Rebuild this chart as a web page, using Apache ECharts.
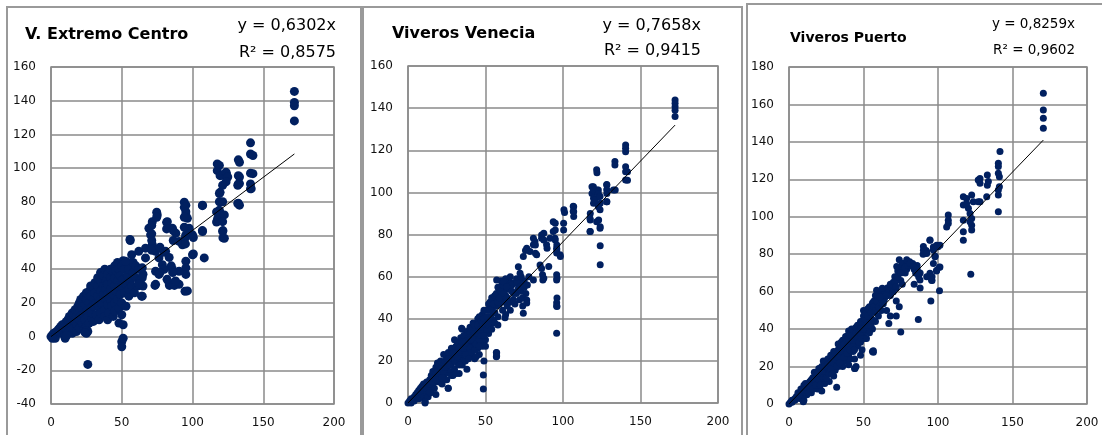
<!DOCTYPE html>
<html>
<head>
<meta charset="utf-8">
<script src="https://cdn.jsdelivr.net/npm/echarts@6/dist/echarts.min.js"></script>
<style>
  html, body { margin: 0; padding: 0; background: #fff; }
  #chart { width: 1102px; height: 435px; }
</style>
</head>
<body>
<div id="chart"></div>
<script>
// Panel titles, regression slopes and R² values
const titles = ['V. Extremo Centro', 'Viveros Venecia', 'Viveros Puerto'];
const slopes = [0.6302, 0.7658, 0.8259];
const r2Values = ['0,8575', '0,9415', '0,9602'];

// Axis ranges
const xTicks = { min: 0, max: 200, interval: 50 };
const yRanges = [
  { min: -40, max: 160, interval: 20 },
  { min: 0, max: 160, interval: 20 },
  { min: 0, max: 180, interval: 20 }
];

// V. Extremo Centro observations [x, y]
const extremoCentro = [
  [0,0],[1,1],[2,0],[2,2],[3,1],[4,3],[5,2],[5,4],[3,-1],[1,-1],
  [6,3],[6,5],[7,2],[7,6],[8,4],[8,7],[9,3],[9,6],[10,5],[10,8],[10,1],[10,-1],
  [11,9],[11,4],[12,7],[12,10],[12,2],[13,6],[13,12],[14,9],[14,4],[15,11],[15,14],[15,7],[15,2],
  [16,13],[16,5],[17,9],[17,16],[18,12],[18,7],[18,3],[19,15],[19,18],[20,10],[20,14],[20,20],[20,5],
  [21,22],[21,12],[22,8],[22,17],[23,24],[23,13],[23,4],[24,19],[24,10],[25,15],[25,22],[25,26],[25,6],[25,2],[26,3],
  [26,12],[27,20],[27,27],[27,8],[28,17],[28,24],[28,30],[29,11],[29,14],[30,22],[30,29],[30,18],[30,9],
  [31,26],[31,32],[32,13],[32,20],[33,24],[33,30],[33,35],[34,17],[34,10],[35,27],[35,22],[35,33],[35,38],[35,14],
  [36,19],[37,30],[37,25],[37,36],[38,40],[38,16],[38,12],[39,22],[39,28],[39,33],[40,19],[40,37],[40,25],[40,31],[40,10],
  [41,14],[42,35],[42,22],[42,28],[42,40],[43,18],[43,32],[44,25],[44,38],[44,12],[45,20],[45,30],[45,35],[45,42],[45,15],
  [46,27],[46,39],[47,22],[47,33],[47,44],[48,17],[48,30],[48,40],[48,8],[49,25],[49,36],[50,20],[50,42],[50,30],[50,13],
  [51,34],[51,45],[51,7],[52,26],[52,40],[53,18],[53,31],[54,44],[54,36],[55,24],[55,28],[55,40],
  [56,33],[57,30],[58,38],[58,44],[59,26],[60,35],[60,42],[61,30],[62,40],[63,33],[64,24],[65,37],[65,30],
  [50,-3],[50,-6],[51,-1],[26,-16.5],[25,3.5],[11,0.6],[24,2.5],
  [52.6,44.7],[57,48.6],[56,57],[62,50.6],[66.8,52.5],[66.8,46.7],[64.5,40.8],[64.5,34.9],[62,31],[64.5,24],
  [69.2,64.3],[71.6,68.2],[75.1,72.2],[70.4,60.4],[71.6,54.5],[73.9,50.6],[76.3,46.7],[78.7,42.7],[73.9,38.8],
  [73.9,31],[76.3,36.9],[81,50.6],[82.2,68.2],[85.8,64.3],[88.2,61.4],[90.5,56.5],[92.9,54.5],[95.3,60.4],
  [100,60.4],[95.3,72.2],[95.3,78],[95.3,74.1],[96.4,70.2],[97.6,64.3],[107.1,78],[107.1,62.4],[100,48.6],
  [108.3,46.7],[95.3,44.7],[95.3,40.8],[95.3,36.9],[90.5,38.8],[85.8,39.8],[83.4,32],[90.5,31],[96.4,27.1],
  [73.5,30.4],[83.7,30.4],[87.2,30.4],[94.7,26.9],[86.4,62.9],[86.4,57],[81.7,67.8],[81.7,63.9],
  [74.7,73.8],[74.7,70.8],[71.2,66],[71.2,61],[71.2,57],[71.2,51.2],[55.8,57.6],[100.6,58.8],[100.6,49],
  [77,53],[80,50],[83.5,47],[85,42],[86,38],[80,40],[77,38],[82,34],[88,33],
  [94.2,79.7],[94.2,76.7],[94.2,70.8],[94.2,64.9],[95,58.8],[95,55],
  [172,145.5],[172,139],[172,137],[172,128],[141,115],[141,108.4],[132.4,104.9],[117.5,102.5],[117.5,98.5],
  [119.5,95.5],[124,96.5],[132.4,95.5],[132.4,90.6],[141,97],[141,90.6],[141,87.7],[119.5,85.6],[132.4,79.1],
  [119,80],[119,75],[117,74],[119,71],[117,68],[121.5,62.9],[121.5,58.6],[107,77.7],[107,62.9],
  [119,101.6],[121.3,95.7],[123.7,97.6],[124.9,94.7],[123.7,91.8],[121.3,89.8],[119,84.9],[133.2,103.5],
  [142.7,107.5],[142.7,96.7],[141.5,87.8],[133.2,94.7],[133.2,90.8],[133.2,78],[121.3,80],[119,74.1],
  [117.8,70.2],[122.5,72.2],[121.3,68.2],[121.3,62.4],[122.5,58.4],[132,89.8],[132,79]
];

// Viveros Venecia observations [x, y]
const viverosVenecia = [
  [0,0],[1,1],[2,0],[2,2],[3,2],[4,3],[4,1],[5,4],[6,3],[6,5],[7,6],[7,2],[8,5],[8,7],[9,4],[9,8],[10,6],[10,9],[10,3],
  [11,8],[11,1],[11,0],[12,5],[12,10],[13,9],[13,3],[14,11],[14,7],[15,13],[15,9],[15,5],[16,12],[16,15],[17,10],[17,7],
  [18,14],[18,17],[18,4],[19,12],[19,19],[20,15],[20,10],[20,18],[21,13],[21,20],[22,16],[22,9],[23,18],[23,23],[23,12],
  [24,14],[24,20],[25,17],[25,22],[25,11],[26,19],[26,7],[26,24],[27,15],[27,21],[28,23],[28,26],[28,18],[29,13],[29,20],
  [30,24],[30,30],[30,16],[31,22],[31,27],[32,19],[32,25],[32,29],[33,14],[33,23],[34,27],[34,31],[34,21],[35,18],[35,25],
  [35,35],[36,29],[36,23],[37,32],[37,26],[37,20],[38,30],[38,34],[38,16],[39,24],[39,28],[40,33],[40,22],[40,36],[41,27],
  [41,30],[42,25],[42,34],[42,38],[43,29],[43,21],[44,32],[44,36],[45,26],[45,30],[45,40],[46,34],[46,23],[47,38],[47,29],
  [48,32],[48,42],[48,27],[49,36],[49,20],[50,30],[50,40],[50,34],[51,44],[51,38],[52,33],[52,47],[53,41],[53,36],[54,45],
  [55,39],[55,50],[56,43],[56,48],[57,24],[57,22],[57,46],[58,52],[58,41],[59,55],[59,47],[60,50],[60,58],[61,44],[61,53],
  [62,48],[63,56],[63,51],[64,46],[65,54],[65,58],
  [12,7],[14,9],[16,10],[18,11],[19,15],[21,16],[22,12],[23,15],[24,17],[26,21],[27,18],[28,13],[29,24],[30,20],[31,14],
  [32,22],[33,26],[33,18],[34,24],[35,29],[36,26],[36,32],[37,23],[37,29],[38,27],[39,31],[39,21],[40,26],[40,30],[41,35],
  [41,24],[42,30],[43,33],[43,25],[43,37],[44,28],[44,22],[45,33],[45,37],[46,30],[46,27],[46,41],[47,35],[47,32],[48,36],
  [48,38],[49,32],[49,40],[49,44],[50,37],[50,27],[51,41],[51,35],[52,37],[52,44],[53,44],[53,48],[54,40],[54,50],[55,43],
  [55,47],[56,51],[57,52],[58,48],[58,55],[59,50],[60,53],[61,56],[62,52],[62,58],[63,59],[64,55],[56,38],[54,35],[58,37],
  [64,50],[66,48],[67,53],[68,57],[69,47],[70,52],[71,58],[72,49],[73,53],[74,46],[75,58],[76,52],[77,56],[78,60],[66,44],[63,42],
  [66,60],[67,56],[68,52],[68,49],[70,59],[71,54],[72,57],[73,60],[74,50],[75,55],[76.6,48.9],[76.6,47.5],[74.4,42.6],
  [62.6,40.5],[57.2,22.3],[57.2,23.9],[48.6,13.3],[48.6,6.6],[34.6,35.5],[25.9,7],[11,0.5],[14.2,4.9],
  [95.9,33.1],[95.9,47.6],[95.9,46.1],[87,58.4],[95.9,58.4],[80.9,58.4],
  [57.2,58.4],[61.5,57.6],[63.7,55.2],[71.2,64.7],[72.3,61.6],[74.4,69.6],[76.6,73.5],[78.7,71.9],[80.9,75.1],
  [80.9,78.2],[81.9,76.7],[83,70.4],[85.2,65.5],[86.2,63.9],[70.1,56.7],[72.3,55.2],[86.2,79.8],[86.2,78.2],
  [93.7,86.1],[93.7,81.4],[94.8,78.2],[95.9,73.5],[95.9,71.2],[95.9,60.9],[98.1,70.4],[100.6,91.8],[106.6,93.4],
  [106.6,91],[91.6,78.2],[89.4,75.1],[86.8,60.9],
  [95,85.3],[95,82.1],[95,77.4],[96,75],[96,72.7],[100.4,85.3],[100.4,82.1],[87.6,80.6],[87.6,77.4],[82.2,75],
  [82.2,71.1],[75.8,72.4],[89.7,73.5],[90.8,64.8],[87.6,59.2],[98.3,69.5],[96.1,59.2],[96.1,49.8],[96.1,45.8],
  [101,90.5],[106.9,93.2],[106.9,90.8],[106.9,88.5],
  [121.9,109.3],[118.7,102.7],[118.7,99.5],[121.9,101.1],[119.7,97.2],[119.7,94.8],[122.9,98.1],[124,94.8],
  [128.3,103.5],[128.3,99.5],[128.3,95.6],[133.7,101.1],[141.6,109.8],[141.6,105.8],[117.6,90],[117.6,86.9],
  [117.6,81.4],[123,86.9],[124,83.7],[124,74.6],[124,65.6],[140.4,122.5],[140.4,119.3],[140.4,121],[140.4,112.2],
  [140.4,109.8],[140.4,105.9],[133.5,114.6],[133.5,113],[128.2,103.7],[128.2,101.3],[121.7,110.8],[119.6,102.7],
  [119.6,101.1],[120.6,96.4],[122.8,101.1],[122.8,99.5],[123.9,98],[122.8,93.2],[123.9,91.7],[117.4,87.7],
  [117.4,81.4],[121.7,86.1],[123.9,83],[128.2,95.6],[132.5,101.1],
  [172.3,143.9],[172.3,142.3],[172.3,140.7],[172.3,139],[172.3,136]
];

// Viveros Puerto observations [x, y]
const viverosPuerto = [
  [0,0],[1,1],[2,1],[2,2],[3,2],[4,3],[4,2],[5,4],[6,4],[6,6],[7,5],[7,3],[8,6],[8,8],[9,7],[9,4],[10,8],[10,2],[10,10],
  [11,6],[11,9],[12,10],[12,5],[13,11],[13,8],[14,12],[14,9],[15,10],[15,13],[15,6],[16,14],[16,11],[17,17],[17,9],
  [18,13],[18,15],[19,12],[19,8],[20,16],[20,19],[20,11],[21,14],[21,18],[22,20],[22,13],[22,7],[23,17],[23,23],[24,15],
  [24,20],[24,11],[25,22],[25,18],[26,16],[26,24],[27,21],[27,19],[27,12],[28,26],[28,17],[29,23],[29,20],[30,25],[30,28],
  [30,15],[31,22],[31,18],[32,27],[32,9],[32,24],[33,29],[33,20],[34,26],[34,31],[35,23],[35,28],[35,33],[36,25],[36,20],
  [37,30],[37,34],[38,27],[38,23],[39,32],[39,36],[40,29],[40,39],[40,26],[41,33],[41,24],[42,35],[42,30],[43,37],[43,28],
  [44,32],[44,19],[44,40],[45,34],[45,20],[46,38],[46,31],[47,42],[47,36],[48,33],[48,44],[49,40],[49,29],[50,37],[50,47],
  [50,43],[51,41],[51,35],[52,45],[52,50],[53,39],[54,48],[54,43],[55,52],[55,46],[56,28],[56,40],[57,49],[57,55],[58,44],
  [58,58],[59,51],[60,47],[60,55],[61,52],[62,50],
  [11,11],[13,6],[14,10],[16,8],[17,13],[18,10],[19,16],[20,13],[21,10],[22,17],[23,14],[24,22],[25,14],[25,20],[26,21],
  [27,16],[28,22],[28,19],[29,26],[29,16],[30,22],[31,27],[31,24],[32,20],[33,25],[33,32],[34,22],[34,28],[35,30],[36,28],
  [36,34],[37,25],[37,32],[38,30],[38,36],[39,27],[39,34],[40,31],[40,35],[41,29],[41,37],[42,33],[42,40],[43,31],[43,34],
  [44,36],[44,29],[45,38],[45,41],[46,35],[46,42],[47,33],[47,39],[48,37],[48,40],[49,35],[49,44],[50,40],[50,50],[51,45],
  [51,48],[52,42],[53,47],[53,51],[54,52],[55,42],[55,49],[56,45],[56,54],[57,52],[58,50],[59,55],[59,58],[60,52],[61,57],
  [62,54],[62,60],[63,58],[64,56],[64,60],[66,58],[67,60],[68,58],[69,62],[70,65],[71,68],[72,66],[73,71],[74,73],[75,66],
  [76,71],[77,75],[78,70],[79,72],[80,76],[82,74],[84,72],[85,70],[86,74],[88,70],
  [40,21],[44,24],[48,26],[52,35],[54,38],
  [65,58],[66,62],[68,64],[70,60],[71,65],[72,62],[72,55],[73,68],[74,77],[74,52],[75,70],[76,75],[76,64],[78,73],[80,74],
  [81,76],[83,75],[84,64],[86,72],[87,68],[88,62],[72,47],[75,38.5],[86.8,45.2],[95.2,55],[101,60.5],[90,80],[92,82],
  [94.6,87.6],[96.9,82.2],[100,84],[101,73],[92.4,81.3],[98,79],[99,71],[96,68],[96,66],[58.8,60.7],[61.1,57.1],
  [63.3,53.6],[65.5,50],[56.6,27.7],[56.6,28.5],[44.3,19],[9.6,1.2],[68,47],[67,43],[62.6,61.8],[71.8,62.7],[72.3,73.4],
  [79,77],[81.2,75.2],[83.4,73.4],[85.7,69.8],[87.9,66.2],[92.4,68],[94.6,69.8],[90.2,84.1],[122,69.3],
  [106.9,100.9],[106.9,98.2],[106.9,96.4],[105.8,94.6],[94.6,87.5],[90.2,82.1],[92.4,80.4],[96.9,83.9],[99.1,84.8],
  [101.3,84.8],[98,78.6],[96.9,75],[101.3,73.2],[99.1,71.4],[95.7,67.9],[95.7,66.1],
  [117,110.7],[117,106.3],[119.2,109.8],[122.6,111.6],[123.7,108],[120.4,104.5],[121.5,101.8],[122.6,99.1],
  [122.6,95.5],[122.6,92.9],[117,92],[117,87.5],[117,98.2],[119.2,107.1],[128.2,108],[132.7,110.7],[128.2,120.5],
  [128.2,117.9],[133.1,122.3],[133.1,116.9],[127,119.7],[133.8,118.8],[141.6,134.8],[140.5,128.6],[140.5,126.8],
  [141.2,121.4],[141.2,116],[140.5,111.6],[140.5,102.7],[140.5,123.2],[140.5,114.3],[121.5,97.4],[127,108],
  [170.7,166],[170.7,157],[170.7,152.6],[170.7,147.3]
];

const datasets = [extremoCentro, viverosVenecia, viverosPuerto];

// Plot rectangles and text placement for the three panels
const grids = [
  { left: 51, top: 67, width: 283, height: 337 },
  { left: 408, top: 66, width: 310, height: 337 },
  { left: 789, top: 67, width: 298, height: 337 }
];
const symbolSizes = [9, 7, 7];
const panelFrames = [
  { x: 7, y: 7, width: 354, height: 440 },
  { x: 363, y: 7, width: 379, height: 440 },
  { x: 747, y: 4, width: 362, height: 440 }
];
const titlePos = [{ x: 25, y: 35, size: 16 }, { x: 392, y: 34, size: 16 }, { x: 790, y: 38, size: 14 }];
const eqPos = [{ x: 336, y1: 26, y2: 53, size: 16 }, { x: 701, y1: 26, y2: 51, size: 16 }, { x: 1075, y1: 24, y2: 50, size: 13.5 }];

const gridColor = '#8a8a8a';
const dotColor = '#012060';
const labelFont = 'DejaVu Sans';

const option = {
  animation: false,
  backgroundColor: '#ffffff',
  grid: grids.map(g => Object.assign({ show: true, borderColor: gridColor, borderWidth: 1.5, backgroundColor: 'transparent' }, g)),
  xAxis: grids.map((g, i) => ({
    gridIndex: i, type: 'value', min: xTicks.min, max: xTicks.max, interval: xTicks.interval,
    axisLine: { show: false }, axisTick: { show: false },
    splitLine: { show: true, lineStyle: { color: gridColor, width: 1.5 } },
    axisLabel: { margin: 13, fontSize: 12, color: '#111', fontFamily: labelFont }
  })),
  yAxis: grids.map((g, i) => ({
    gridIndex: i, type: 'value', min: yRanges[i].min, max: yRanges[i].max, interval: yRanges[i].interval,
    axisLine: { show: false }, axisTick: { show: false },
    splitLine: { show: true, lineStyle: { color: gridColor, width: 1.5 } },
    axisLabel: { margin: 15, fontSize: 12, color: '#111', fontFamily: labelFont }
  })),
  series: [],
  graphic: []
};

datasets.forEach((pts, i) => {
  option.series.push({
    type: 'scatter', xAxisIndex: i, yAxisIndex: i, data: pts,
    symbol: 'circle', symbolSize: symbolSizes[i],
    itemStyle: { color: dotColor, opacity: 1 }, silent: true, z: 2
  });
  // Linear trend through the origin, spanning the observed x range
  const xMax = Math.max.apply(null, pts.map(p => p[0]));
  option.series.push({
    type: 'line', xAxisIndex: i, yAxisIndex: i,
    data: [[0, 0], [xMax, slopes[i] * xMax]],
    symbol: 'none', lineStyle: { color: '#000', width: 1 }, silent: true, z: 3
  });

  option.graphic.push({
    type: 'rect', shape: panelFrames[i], silent: true, z: 0,
    style: { fill: null, stroke: '#9a9a9a', lineWidth: 2 }
  });
  option.graphic.push({
    type: 'text', x: titlePos[i].x, y: titlePos[i].y, silent: true,
    style: { text: titles[i], fontSize: titlePos[i].size, fontWeight: 'bold', fontFamily: labelFont,
             fill: '#000', align: 'left', verticalAlign: 'middle' }
  });
  const slopeText = slopes[i].toFixed(4).replace('.', ',');
  option.graphic.push({
    type: 'text', x: eqPos[i].x, y: eqPos[i].y1, silent: true,
    style: { text: 'y = ' + slopeText + 'x', fontSize: eqPos[i].size, fontFamily: labelFont,
             fill: '#000', align: 'right', verticalAlign: 'middle' }
  });
  option.graphic.push({
    type: 'text', x: eqPos[i].x, y: eqPos[i].y2, silent: true,
    style: { text: 'R² = ' + r2Values[i], fontSize: eqPos[i].size, fontFamily: labelFont,
             fill: '#000', align: 'right', verticalAlign: 'middle' }
  });
});

const chart = echarts.init(document.getElementById('chart'), null, { renderer: 'canvas' });
chart.setOption(option);
</script>
</body>
</html>
